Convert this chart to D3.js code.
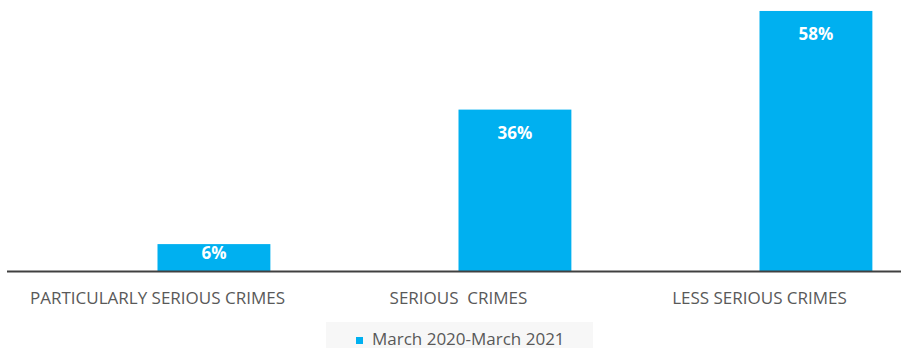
<!DOCTYPE html>
<html>
<head>
  <meta charset="utf-8">
  <title>Crimes by seriousness</title>
  <script src="https://d3js.org/d3.v7.min.js"></script>
  <style>
    body { margin: 0; background: #fff; }
    text { font-family: "Open Sans", sans-serif; }
  </style>
</head>
<body>
<script>
  // data
  var categories = ["PARTICULARLY SERIOUS CRIMES", "SERIOUS  CRIMES", "LESS SERIOUS CRIMES"]
  var seriesName = "March 2020-March 2021"
  var values = [6, 36, 58]

  var W = 901, H = 348
  var base = 271

  var svg = d3.select("body").append("svg")
      .attr("width", W).attr("height", H)

  // category bands (the chart runs a bit past the right edge)
  var x = d3.scaleBand().domain(categories).range([7, 910])
  var y = d3.scaleLinear().domain([0, 60]).range([base, 2])
  var barW = x.bandwidth() * 0.375

  // bars sit in the right half of each category slot
  svg.selectAll("rect.bar").data(values).enter().append("rect")
      .attr("class", "bar")
      .attr("x", function(d, i) { return x(categories[i]) + x.bandwidth() / 2 })
      .attr("y", function(d) { return y(d) })
      .attr("width", barW)
      .attr("height", function(d) { return base - y(d) })
      .attr("fill", "#00b0f0")

  // value labels
  svg.selectAll("text.val").data(values).enter().append("text")
      .attr("class", "val")
      .attr("x", function(d, i) { return x(categories[i]) + x.bandwidth() / 2 + barW / 2 })
      .attr("y", function(d) { return Math.min(y(d) + 29, base - 12) })
      .attr("text-anchor", "middle")
      .attr("fill", "#fff")
      .attr("font-weight", "bold")
      .attr("font-size", "17px")
      .text(function(d) { return d + "%" })

  // baseline
  svg.append("line")
      .attr("x1", 7).attr("x2", W).attr("y1", base + 0.5).attr("y2", base + 0.5)
      .attr("stroke", "#404040").attr("stroke-width", 2)

  // category labels
  svg.selectAll("text.cat").data(categories).enter().append("text")
      .attr("class", "cat")
      .attr("x", function(d) { return x(d) + x.bandwidth() / 2 })
      .attr("y", 304)
      .attr("text-anchor", "middle")
      .attr("fill", "#595959")
      .attr("font-size", "17px")
      .style("white-space", "pre")
      .text(function(d) { return d })

  // legend
  var lg = svg.append("g")
  lg.append("rect").attr("x", 326).attr("y", 322).attr("width", 267).attr("height", 26)
      .attr("fill", "#f7f7f7")
  lg.append("rect").attr("x", 356).attr("y", 337).attr("width", 7).attr("height", 7)
      .attr("fill", "#00b0f0")
  lg.append("text").attr("x", 372).attr("y", 345)
      .attr("fill", "#595959").attr("font-size", "17px")
      .text(seriesName)
</script>
</body>
</html>
